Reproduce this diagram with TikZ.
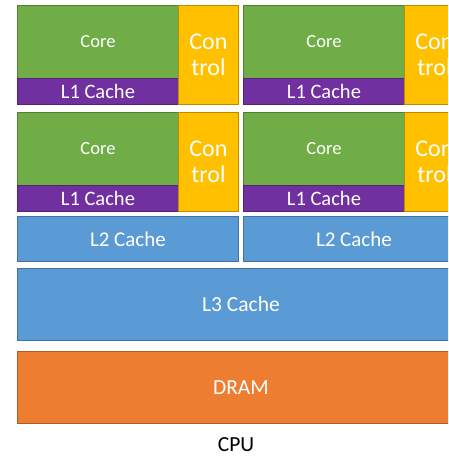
\documentclass[tikz,border=0pt]{standalone}
\usepackage{fontspec}
\setmainfont{Carlito}
\definecolor{cgreen}{HTML}{70AD47}
\definecolor{cgreenb}{HTML}{507E32}
\definecolor{cpurple}{HTML}{7030A0}
\definecolor{cpurpleb}{HTML}{52237A}
\definecolor{cyellow}{HTML}{FFC000}
\definecolor{cyellowb}{HTML}{BC8C00}
\definecolor{cblue}{HTML}{5B9BD5}
\definecolor{cblueb}{HTML}{41719C}
\definecolor{corange}{HTML}{ED7D31}
\definecolor{corangeb}{HTML}{AE5A21}
\tikzset{
  cell/.style={rectangle, anchor=north west, inner sep=0pt, line width=0.9pt, text=white, align=center},
  corebox/.style={cell, fill=cgreen, draw=cgreenb, minimum width=161pt, minimum height=73pt, font=\fontsize{18.5}{22}\selectfont},
  lonebox/.style={cell, fill=cpurple, draw=cpurpleb, minimum width=161pt, minimum height=26pt, font=\fontsize{20.5}{24}\selectfont},
  ctrlbox/.style={cell, fill=cyellow, draw=cyellowb, minimum width=60pt, minimum height=99pt, font=\fontsize{24}{26}\selectfont},
  ltwobox/.style={cell, fill=cblue, draw=cblueb, minimum width=221pt, minimum height=45pt, font=\fontsize{21}{24}\selectfont},
  bigbox/.style={cell, minimum width=447pt, minimum height=72pt, font=\fontsize{21.5}{24}\selectfont},
}
\begin{document}
\begin{tikzpicture}[x=1pt,y=1pt]
\useasboundingbox (0,0) rectangle (448,456);
\clip (0,0) rectangle (448,456);
% row 1
\node[corebox] (core11) at (17,451) {Core};
\node[lonebox] (lone11) at (17,378) {L1 Cache};
\node[ctrlbox] (ctrl11) at (178,451) {Con\\trol};
\node[corebox] (core12) at (243,451) {Core};
\node[lonebox] (lone12) at (243,378) {L1 Cache};
\node[ctrlbox] (ctrl12) at (404,451) {Con\\trol};
% row 2
\node[corebox] (core21) at (17,344) {Core};
\node[lonebox] (lone21) at (17,271) {L1 Cache};
\node[ctrlbox] (ctrl21) at (178,344) {Con\\trol};
\node[corebox] (core22) at (243,344) {Core};
\node[lonebox] (lone22) at (243,271) {L1 Cache};
\node[ctrlbox] (ctrl22) at (404,344) {Con\\trol};
% L2
\node[ltwobox] (ltwo1) at (17,240) {L2 Cache};
\node[ltwobox] (ltwo2) at (243,240) {L2 Cache};
% L3, DRAM
\node[bigbox, fill=cblue, draw=cblueb] (lthree) at (17,188) {L3 Cache};
\node[bigbox, fill=corange, draw=corangeb] (dram) at (17,105) {DRAM};
\node[font=\fontsize{21.5}{24}\selectfont, text=black, inner sep=0pt] (cpu) at (236,11.5) {CPU};
\end{tikzpicture}
\end{document}
